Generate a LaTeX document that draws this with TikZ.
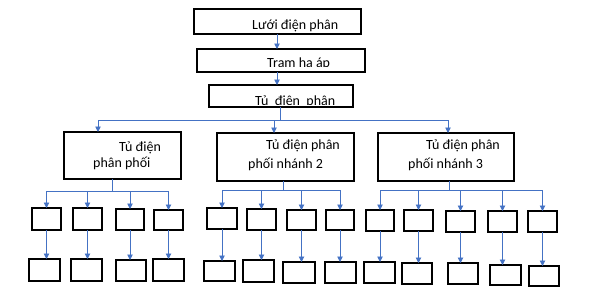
\documentclass[tikz,border=0pt]{standalone}
\usepackage{fontspec}
\setmainfont{Carlito}
\usetikzlibrary{arrows.meta}
\definecolor{arrblue}{RGB}{68,114,196}
\newcommand\mkbox[5]{\node[bx,minimum width={(#4-#2)*1pt},minimum height={(#5-#3)*1pt}] (#1) at ({(#2+#4)/2},{(#3+#5)/2}) {};}
\begin{document}
\begin{tikzpicture}[x=1pt,y=-1pt,
  bx/.style={draw=black, line width=1.1pt, inner sep=0pt, outer sep=0pt},
  conn/.style={draw=arrblue, line width=0.9pt},
  arr/.style={conn, -{Triangle[width=5.5pt,length=5.5pt]}},
  txt/.style={inner sep=0pt, font=\fontsize{14}{16}\selectfont, anchor=base west}]
\useasboundingbox (0,0) rectangle (593,295);
% top chain
\mkbox{l1}{194}{9}{361}{34}
\mkbox{l2}{197}{49}{365}{72}
\mkbox{l3}{209}{85}{353}{107}
\node[txt] (t1) at (252,29) {Lưới điện phân};
\begin{scope}
  \clip (198,50) rectangle (364,66);
  \node[txt] (t2) at (267,67) {Tram ha áp};
\end{scope}
\begin{scope}
  \clip (210,86) rectangle (352,104);
  \node[txt] (t3) at (255,105) {Tủ\ \ điện\ \ phân};
\end{scope}
\coordinate (c12) at (277,0);
\draw[arr] (l1.south -| c12) -- (l2.north -| c12);
\draw[arr] (l2.south -| c12) -- (l3.north -| c12);
% panels
\mkbox{p1}{64}{132}{181}{179}
\mkbox{p2}{217}{133}{354}{181}
\mkbox{p3}{378}{133}{514}{181}
\node[txt] (p1a) at (119,151) {Tủ điện};
\node[txt] (p1b) at (93,167) {phân phối};
\node[txt] (p2a) at (266,149) {Tủ điện phân};
\node[txt] (p2b) at (248,168) {phối nhánh 2};
\node[txt] (p3a) at (426,149) {Tủ điện phân};
\node[txt] (p3b) at (408,168) {phối nhánh 3};
\coordinate (hub) at (280,120);
\coordinate (a1) at (98,120);
\coordinate (a2) at (274,120);
\coordinate (a3) at (448,120);
\draw[conn] (l3.south -| hub) -- (hub);
\draw[conn] (a1) -- (a3);
\draw[arr] (a1) -- (a1 |- p1.north);
\draw[arr] (a2) -- (a2 |- p2.north);
\draw[arr] (a3) -- (a3 |- p3.north);
% group 1
\mkbox{r11}{32}{208}{61}{230}
\mkbox{r12}{73}{208}{102}{230}
\mkbox{r13}{116}{209}{144}{230}
\mkbox{r14}{154}{210}{183}{230}
\mkbox{s11}{29}{259}{60}{281}
\mkbox{s12}{71}{259}{102}{281}
\mkbox{s13}{116}{260}{146}{281}
\mkbox{s14}{153}{259}{184}{281}
\coordinate (g1) at (112,191);
\draw[conn] (p1.south -| g1) -- (g1);
\draw[conn] (r11.north |- g1) -- (r14.north |- g1);
\foreach \k in {1,...,4}{
  \draw[arr] (r1\k.north |- g1) -- (r1\k.north);
  \draw[arr] (r1\k.south) -- (r1\k.south |- s1\k.north);
}
% group 2
\mkbox{r21}{207}{208}{237}{229}
\mkbox{r22}{247}{209}{276}{230}
\mkbox{r23}{287}{210}{316}{230}
\mkbox{r24}{326}{210}{354}{230}
\mkbox{s21}{204}{261}{235}{281}
\mkbox{s22}{243}{260}{274}{282}
\mkbox{s23}{283}{262}{315}{283}
\mkbox{s24}{325}{262}{356}{283}
\coordinate (g2) at (283,190);
\draw[conn] (p2.south -| g2) -- (g2);
\draw[conn] (r21.north |- g2) -- (r24.north |- g2);
\foreach \k in {1,...,4}{
  \draw[arr] (r2\k.north |- g2) -- (r2\k.north);
  \draw[arr] (r2\k.south) -- (r2\k.south |- s2\k.north);
}
% group 3
\mkbox{r31}{366}{210}{394}{231}
\mkbox{r32}{404}{210}{433}{231}
\mkbox{r33}{446}{211}{475}{232}
\mkbox{r34}{488}{211}{517}{232}
\mkbox{r35}{528}{211}{557}{232}
\mkbox{s31}{364}{262}{395}{283}
\mkbox{s32}{402}{263}{432}{284}
\mkbox{s33}{448}{263}{478}{284}
\mkbox{s34}{490}{265}{521}{285}
\mkbox{s35}{529}{266}{559}{286}
\coordinate (g3) at (449,190);
\draw[conn] (p3.south -| g3) -- (g3);
\draw[conn] (r31.north |- g3) -- (r35.north |- g3);
\foreach \k in {1,...,5}{
  \draw[arr] (r3\k.north |- g3) -- (r3\k.north);
  \draw[arr] (r3\k.south) -- (r3\k.south |- s3\k.north);
}
\end{tikzpicture}
\end{document}
